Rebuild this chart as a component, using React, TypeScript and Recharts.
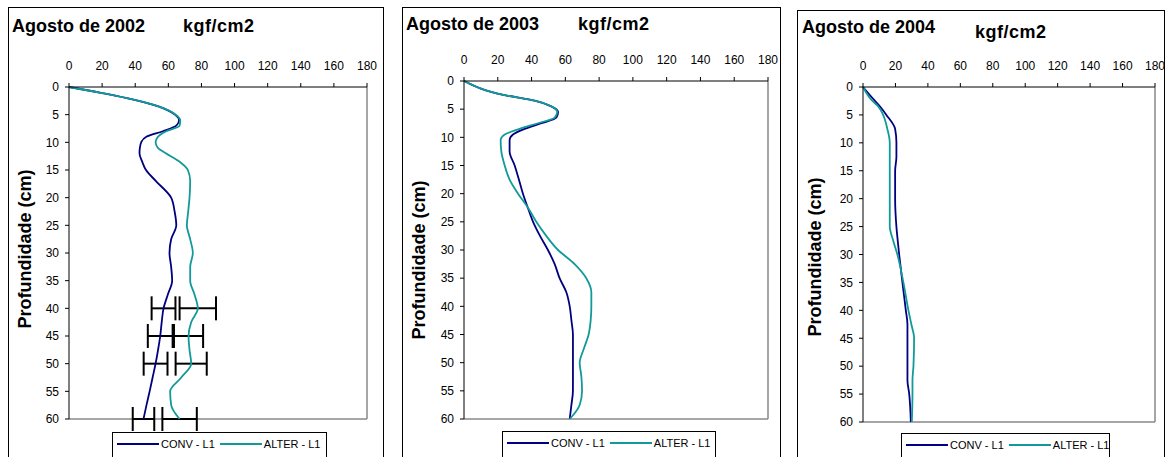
import {
  ErrorBar,
  Legend,
  Line,
  LineChart,
  ReferenceLine,
  XAxis,
  YAxis,
} from "recharts";

const CONV_COLOR = "#000080";
const ALTER_COLOR = "#12999a";

const X_TICKS = [0, 20, 40, 60, 80, 100, 120, 140, 160, 180];
const Y_TICKS = [0, 5, 10, 15, 20, 25, 30, 35, 40, 45, 50, 55, 60];

// ---- Agosto de 2002 --------------------------------------------------------
const depth2002 = [
  0, 1, 2, 3.5, 5, 6, 7, 8, 9, 10, 11, 12, 13.5, 15, 17, 20, 22.5, 25, 27.5, 30,
  32.5, 35, 37.5, 40, 42.5, 45, 47.5, 50, 52.5, 55, 57.5, 60,
];
const conv2002 = [
  0, 18.5, 35, 54, 64, 66.5, 64.8, 56.7, 46.7, 43.6, 42.8, 42.6, 44.2, 46.5,
  52.5, 61.7, 63.8, 64.8, 61.7, 60.7, 61.7, 62.3, 59.7, 57.1, 56, 55.1, 53.8,
  52.3, 50.5, 48.7, 46.8, 45,
];
const alter2002 = [
  0, 18.5, 35, 54, 64.5, 67.2, 66.8, 58.7, 53.7, 52.3, 53.7, 58.7, 66.8, 71.8,
  73.2, 72.8, 72, 71.2, 73.2, 74.8, 73.2, 73.2, 75.8, 77.8, 73.8, 72.2, 72.8,
  73.8, 67.8, 61.1, 61.7, 66.8,
];
// error bars (±) at 40, 45, 50 and 60 cm
const errDepth2002 = [40, 45, 50, 60];
const convErr2002 = [7.2, 7.5, 7.2, 6.5];
const alterErr2002 = [11, 8.8, 9.4, 10.4];

// ---- Agosto de 2003 --------------------------------------------------------
const depth2003 = [
  0, 2.5, 3.5, 4.5, 5.5, 6.5, 7.5, 8.5, 9.5, 10.5, 12.5, 15, 17.5, 20, 22.5,
  25, 27.5, 30, 32.5, 35, 37.5, 40, 42.5, 45, 47.5, 50, 52.5, 55, 57.5, 60,
];
const conv2003 = [
  0, 24, 41.8, 51.7, 55.7, 54.7, 45.8, 35.9, 29, 27, 27, 30, 32.5, 34.9, 37.8,
  40.9, 45, 49.7, 53.7, 56.6, 60.6, 62.6, 63.6, 64.5, 64.5, 64.5, 64.5, 64.5,
  63.6, 62.6,
];
const alter2003 = [
  0, 24, 41.8, 51.7, 55.2, 53.7, 43.8, 33, 24.1, 21.7, 22.1, 24.1, 27, 32,
  37.9, 42.8, 48.7, 55.7, 65.5, 72.4, 75.4, 75.4, 75, 73.8, 71, 68.5, 69.5,
  69.9, 68.5, 62.6,
];

// ---- Agosto de 2004 --------------------------------------------------------
const depth2004 = [
  0, 2.5, 3.5, 5, 7.5, 10, 12.5, 15, 20, 25, 27.5, 30, 35, 40, 42.5, 45, 50,
  52.5, 55, 60,
];
const conv2004 = [
  0, 7.4, 10.5, 14.4, 19.8, 20.6, 20.6, 19.8, 19.8, 20.6, 21.4, 22.3, 24.3,
  26.4, 27.4, 27.4, 27.4, 27.4, 28.5, 29.5,
];
const alter2004 = [
  0, 5.8, 9.5, 12.4, 15, 16.5, 16.5, 16.5, 16.5, 16.5, 18.6, 21.2, 24.9, 28,
  29.8, 31.5, 31.1, 30.5, 30.5, 30.1,
];

type Row = {
  d: number;
  conv: number;
  alter: number;
  convErr?: number;
  alterErr?: number;
};

function buildRows(
  depth: number[],
  conv: number[],
  alter: number[],
  errDepth: number[] = [],
  convErr: number[] = [],
  alterErr: number[] = [],
): Row[] {
  return depth.map((d, i) => {
    const row: Row = { d, conv: conv[i], alter: alter[i] };
    const k = errDepth.indexOf(d);
    if (k >= 0) {
      row.convErr = convErr[k];
      row.alterErr = alterErr[k];
    }
    return row;
  });
}

type PanelDef = {
  title: string;
  rows: Row[];
  box: { left: number; top: number; right: number };
  plot: { left: number; top: number; right: number; bottom: number };
  titlePos: { x: number; y: number };
  unitPos: { x: number; y: number };
  yLabel: { x: number; y: number };
  legend: { left: number; top: number; width: number };
  errors?: boolean;
};

const panels: PanelDef[] = [
  {
    title: "Agosto de 2002",
    rows: buildRows(depth2002, conv2002, alter2002, errDepth2002, convErr2002, alterErr2002),
    box: { left: 8, top: 7, right: 383 },
    plot: { left: 69, top: 87, right: 367, bottom: 419 },
    titlePos: { x: 12, y: 27 },
    unitPos: { x: 183, y: 27 },
    yLabel: { x: 25, y: 249 },
    legend: { left: 112, top: 432, width: 215 },
    errors: true,
  },
  {
    title: "Agosto de 2003",
    rows: buildRows(depth2003, conv2003, alter2003),
    box: { left: 402, top: 7, right: 780 },
    plot: { left: 464, top: 81, right: 768, bottom: 419 },
    titlePos: { x: 406, y: 25 },
    unitPos: { x: 578, y: 25 },
    yLabel: { x: 419, y: 260 },
    legend: { left: 502, top: 431, width: 214 },
  },
  {
    title: "Agosto de 2004",
    rows: buildRows(depth2004, conv2004, alter2004),
    box: { left: 797, top: 10, right: 1164 },
    plot: { left: 863, top: 87, right: 1155, bottom: 422 },
    titlePos: { x: 802, y: 28 },
    unitPos: { x: 975, y: 33 },
    yLabel: { x: 815, y: 257 },
    legend: { left: 901, top: 433, width: 209 },
  },
];

const FONT = "'Liberation Sans', Arial, Helvetica, sans-serif";
const Y_AXIS_W = 50;
const X_AXIS_H = 30;
const CHART_H = 445;

function LegendBox({ left, top, width }: { left: number; top: number; width: number }) {
  const item = (color: string, label: string) => (
    <span style={{ display: "flex", alignItems: "center", flexShrink: 0, whiteSpace: "nowrap" }}>
      <span style={{ display: "inline-block", width: 42, height: 0, borderTop: `2px solid ${color}` }} />
      <span style={{ marginLeft: 2 }}>{label}</span>
    </span>
  );
  return (
    <div
      style={{
        position: "absolute",
        left,
        top,
        width,
        height: 40,
        boxSizing: "border-box",
        border: "1px solid #000",
        background: "#fff",
        fontFamily: FONT,
        fontSize: 11,
        color: "#000",
        display: "flex",
        alignItems: "flex-start",
        paddingTop: 5,
        paddingLeft: 4,
        gap: 5,
        overflow: "hidden",
      }}
    >
      {item(CONV_COLOR, "CONV - L1")}
      {item(ALTER_COLOR, "ALTER - L1")}
    </div>
  );
}

function Panel({ p }: { p: PanelDef }) {
  const chartLeft = p.box.left + 1;
  const chartTop = p.box.top + 1;
  const chartW = p.box.right - p.box.left - 1;
  const margin = {
    left: p.plot.left - chartLeft - Y_AXIS_W,
    top: p.plot.top - chartTop - X_AXIS_H,
    right: chartLeft + chartW - p.plot.right,
    bottom: chartTop + CHART_H - p.plot.bottom,
  };
  const tick = { fill: "#000", fontSize: 12, fontFamily: FONT };
  const bold = { fontFamily: FONT, fontWeight: 700, fontSize: 18, color: "#000" };

  return (
    <>
      <div
        style={{
          position: "absolute",
          left: p.box.left,
          top: p.box.top,
          width: p.box.right - p.box.left + 1,
          height: 470,
          boxSizing: "border-box",
          border: "1px solid #000",
        }}
      />
      <div style={{ position: "absolute", left: chartLeft, top: chartTop }}>
        <LineChart
          width={chartW}
          height={CHART_H}
          data={p.rows}
          layout="vertical"
          margin={margin}
        >
          <XAxis
            type="number"
            orientation="top"
            domain={[0, 180]}
            ticks={X_TICKS}
            height={X_AXIS_H}
            tick={tick}
            tickSize={4}
            tickMargin={13}
            stroke="#000"
            interval={0}
          />
          <YAxis
            type="number"
            dataKey="d"
            domain={[0, 60]}
            ticks={Y_TICKS}
            width={Y_AXIS_W}
            tick={tick}
            tickSize={4}
            tickMargin={6}
            stroke="#000"
            interval={0}
          />
          <ReferenceLine x={180} stroke="#888" strokeWidth={1.5} />
          <ReferenceLine y={60} stroke="#888" strokeWidth={1.5} />
          <Line
            dataKey="conv"
            name="CONV - L1"
            type="monotoneY"
            stroke={CONV_COLOR}
            strokeWidth={1.8}
            dot={false}
            isAnimationActive={false}
          >
            {p.errors && (
              <ErrorBar dataKey="convErr" direction="x" width={12} stroke="#000" strokeWidth={2} />
            )}
          </Line>
          <Line
            dataKey="alter"
            name="ALTER - L1"
            type="monotoneY"
            stroke={ALTER_COLOR}
            strokeWidth={1.8}
            dot={false}
            isAnimationActive={false}
          >
            {p.errors && (
              <ErrorBar dataKey="alterErr" direction="x" width={12} stroke="#000" strokeWidth={2} />
            )}
          </Line>
          <Legend
            verticalAlign="middle"
            align="center"
            layout="horizontal"
            wrapperStyle={{ left: 0, top: 0, width: 0, height: 0 }}
            content={() => null}
          />
        </LineChart>
      </div>
      <div style={{ position: "absolute", left: p.titlePos.x, top: p.titlePos.y - 11, whiteSpace: "nowrap", ...bold }}>
        {p.title}
      </div>
      <div style={{ position: "absolute", left: p.unitPos.x, top: p.unitPos.y - 11, whiteSpace: "nowrap", letterSpacing: 0.5, ...bold }}>
        kgf/cm2
      </div>
      <div
        style={{
          position: "absolute",
          left: p.yLabel.x,
          top: p.yLabel.y,
          transform: "translate(-50%, -50%) rotate(-90deg)",
          whiteSpace: "nowrap",
          ...bold,
        }}
      >
        Profundidade (cm)
      </div>
      <LegendBox {...p.legend} />
    </>
  );
}

export default function App() {
  return (
    <div
      style={{
        position: "fixed",
        left: 0,
        top: 0,
        width: 1168,
        height: 457,
        overflow: "hidden",
        background: "#fff",
      }}
    >
      {panels.map((p) => (
        <Panel key={p.title} p={p} />
      ))}
    </div>
  );
}
